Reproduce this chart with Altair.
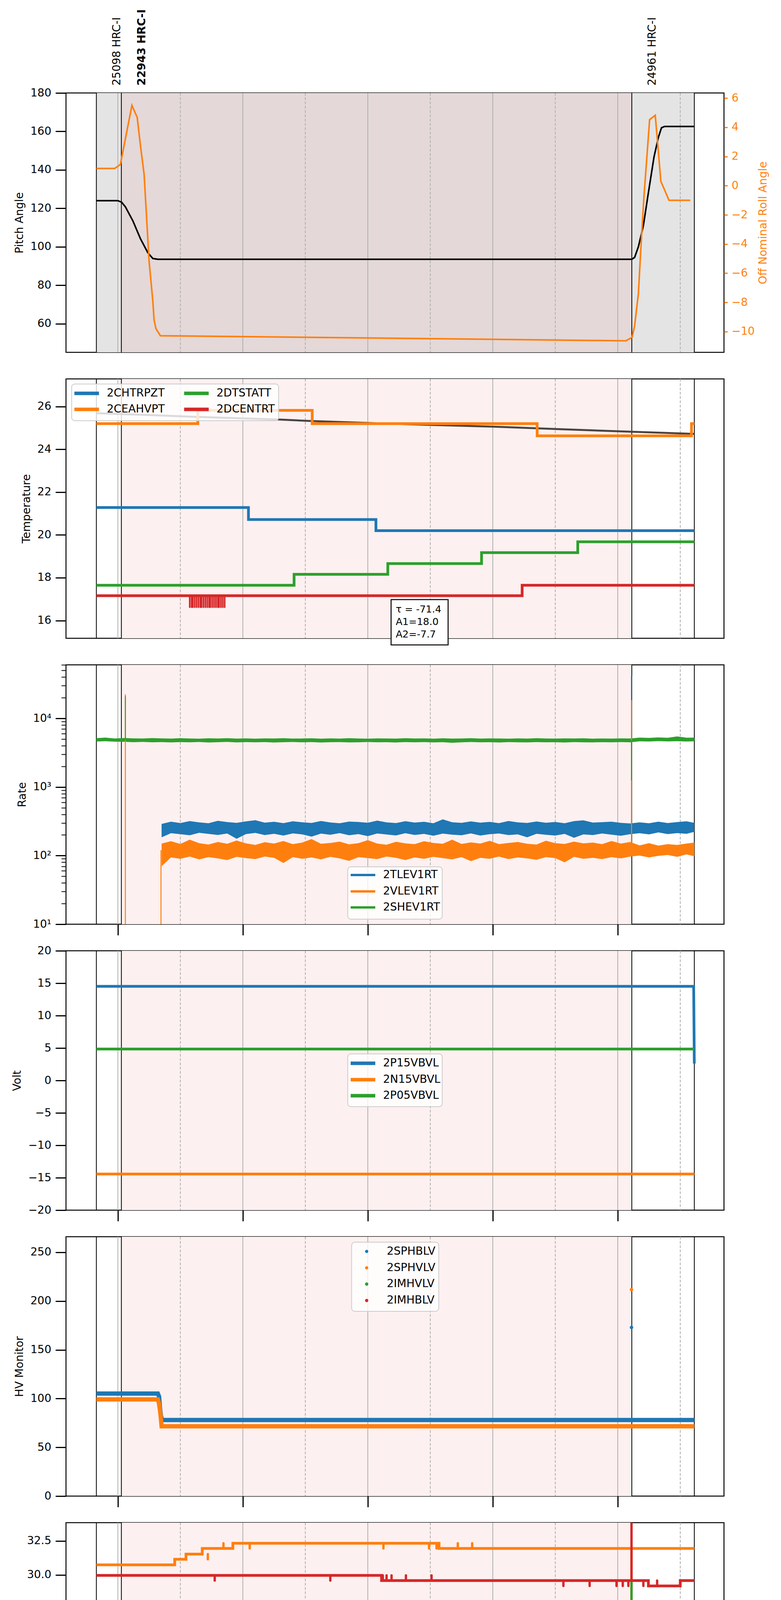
import altair as alt
import pandas as pd

BLUE, ORANGE, GREEN, RED = "#1f77b4", "#ff7f0e", "#2ca02c", "#d62728"
GRID = "#b0b0b0"
FONT = "DejaVu Sans"

W, H = 1685, 664
XSCALE = alt.Scale(domain=[11.17, 21.70], nice=False, zero=False)

# times are decimal hours of 2021-08-01
MAJOR_HOURS = [12, 14, 16, 18, 20]
MINOR_HOURS = [13, 15, 17, 19, 21]
ALL_HOURS = [12, 13, 14, 15, 16, 17, 18, 19, 20, 21]
OBS_LINES = [11.656, 12.056, 20.225, 21.225]
OBS_START = [11.656, 12.056, 20.225]
OBS_IDS = ["25098 HRC-I", "22943 HRC-I", "24961 HRC-I"]
OBS_BOLD = [False, True, False]
SPAN_START = [11.656, 12.056, 20.225]
SPAN_END = [12.056, 20.225, 21.225]
SPAN_FILL_TOP = ["#e4e4e4", "#e4d8d8", "#e4e4e4"]
PINK = "#fdf0f0"

# panel 1: pitch / roll
PITCH_T = [11.656, 12.0, 12.06, 12.12, 12.24, 12.36, 12.48, 12.56, 12.64,
           20.225, 20.27, 20.33, 20.41, 20.48, 20.58, 20.65, 20.70, 20.75, 21.225]
PITCH_V = [124.0, 124.0, 123.2, 120.8, 113.5, 104.3, 96.9, 93.9, 93.5,
           93.5, 94.5, 100.0, 111.0, 126.0, 146.7, 156.9, 161.9, 162.6, 162.6]
ROLL_T = [11.656, 11.95, 12.04, 12.225, 12.31, 12.36, 12.42, 12.5, 12.56, 12.58, 12.61, 12.68,
          20.13, 20.23, 20.27, 20.33, 20.38, 20.42, 20.51, 20.60, 20.69, 20.74, 20.78, 20.82, 21.16]
ROLL_V = [1.18, 1.18, 1.45, 5.50, 4.67, 2.8, 0.78, -5.18, -7.93, -9.22, -9.8, -10.28,
          -10.63, -10.39, -9.6, -7.4, -3.5, -0.7, 4.52, 4.82, 0.29, -0.2, -0.6, -1.0, -1.0]

# panel 2: temperature
P2_NAMES = ["2CHTRPZT", "2CEAHVPT", "2DTSTATT", "2DCENTRT"]
P2_BLUE_T = [11.656, 14.09, 16.13, 21.225]
P2_BLUE_V = [21.28, 20.72, 20.2, 20.2]
P2_ORANGE_T = [11.656, 13.28, 15.11, 18.71, 21.18, 21.225]
P2_ORANGE_V = [25.2, 25.82, 25.2, 24.63, 25.2, 25.2]
P2_GREEN_T = [11.656, 14.82, 16.32, 17.82, 19.36, 21.225]
P2_GREEN_V = [17.65, 18.16, 18.66, 19.17, 19.68, 19.68]
P2_RED_T = [11.656, 18.47, 21.225]
P2_RED_V = [17.16, 17.65, 17.65]
P2_RED_DIP_T = [13.15, 13.18, 13.20, 13.23, 13.26, 13.29, 13.32, 13.34, 13.37, 13.40, 13.43,
                13.46, 13.48, 13.51, 13.54, 13.57, 13.60, 13.62, 13.65, 13.68, 13.71]
P2_RED_DIP_LO, P2_RED_DIP_HI = 16.62, 17.16
P2_FIT_T = [11.656, 12.5, 13.5, 14.58, 15.05, 16.0, 17.0, 18.1, 19.0, 20.22, 21.225]
P2_FIT_V = [25.69, 25.60, 25.49, 25.39, 25.33, 25.23, 25.14, 25.05, 24.95, 24.82, 24.72]
P2_FIT_TEXT = ["τ = -71.4", "A1=18.0", "A2=-7.7"]

# panel 3: rates (band envelopes)
P3_NAMES = ["2TLEV1RT", "2VLEV1RT", "2SHEV1RT"]
RATE_T = [11.656, 11.80, 11.95, 12.10, 12.25, 12.40, 12.55, 12.70, 12.85, 13.00,
          13.15, 13.30, 13.45, 13.60, 13.75, 13.90, 14.05, 14.20, 14.35, 14.50,
          14.65, 14.80, 14.95, 15.10, 15.25, 15.40, 15.55, 15.70, 15.85, 16.00,
          16.15, 16.30, 16.45, 16.60, 16.75, 16.90, 17.05, 17.20, 17.35, 17.50,
          17.65, 17.80, 17.95, 18.10, 18.25, 18.40, 18.55, 18.70, 18.85, 19.00,
          19.15, 19.30, 19.45, 19.60, 19.75, 19.90, 20.05, 20.20, 20.35, 20.50,
          20.65, 20.80, 20.95, 21.10, 21.225]
BLUE_HI = [None, None, None, None, None, None, None, 290, 312, 298,
           318, 305, 296, 322, 308, 300, 315, 328, 302, 311,
           297, 316, 306, 299, 319, 304, 296, 313, 309, 301,
           324, 305, 298, 317, 303, 311, 296, 338, 306, 300,
           315, 302, 310, 297, 320, 305, 299, 314, 301, 309,
           296, 318, 327, 303, 307, 312, 300, 294, 305, 296,
           312, 298, 308, 316, 300]
BLUE_LO = [None, None, None, None, None, None, None, 185, 212, 205,
           198, 215, 207, 200, 210, 176, 206, 214, 199, 208,
           196, 211, 204, 189, 209, 201, 213, 198, 206, 192,
           210, 203, 197, 212, 200, 207, 195, 209, 202, 198,
           211, 196, 205, 210, 199, 204, 185, 208, 201, 196,
           207, 182, 204, 199, 210, 202, 195, 205, 212, 204,
           218, 206, 213, 208, 222]
ORANGE_HI = [None, None, None, None, None, None, None, 150, 162, 148,
             171, 152, 145, 158, 149, 166, 151, 143, 157, 150,
             163, 147, 155, 174, 149, 153, 160, 146, 152, 168,
             150, 144, 159, 151, 147, 162, 153, 149, 171, 148,
             156, 150, 164, 147, 153, 158, 149, 145, 165, 152,
             148, 160, 151, 155, 147, 163, 150, 158, 141, 152,
             140, 147, 143, 150, 155]
ORANGE_LO = [None, None, None, None, None, None, None, 70, 94, 90,
             97, 88, 95, 91, 86, 96, 92, 89, 97, 93,
             78, 95, 90, 94, 88, 96, 91, 84, 95, 92,
             89, 97, 93, 86, 94, 90, 96, 92, 88, 95,
             83, 93, 90, 97, 89, 94, 91, 87, 95, 92,
             80, 96, 90, 93, 89, 95, 91, 97, 100, 94,
             99, 102, 96, 104, 98]
GREEN_HI = [5150, 5250, 5100, 5180, 5120, 5090, 5160, 5110, 5070, 5140,
            5100, 5060, 5130, 5090, 5150, 5080, 5110, 5060, 5120, 5090,
            5140, 5070, 5100, 5130, 5060, 5110, 5080, 5150, 5090, 5060,
            5120, 5100, 5070, 5140, 5090, 5110, 5060, 5130, 5080, 5100,
            5150, 5070, 5110, 5090, 5060, 5120, 5080, 5140, 5100, 5070,
            5110, 5090, 5130, 5060, 5100, 5080, 5120, 5090, 5250, 5200,
            5280, 5220, 5450, 5230, 5250]
GREEN_LO = [4600, 4650, 4580, 4560, 4500, 4540, 4490, 4520, 4470, 4510,
            4480, 4530, 4460, 4500, 4540, 4470, 4510, 4480, 4520, 4450,
            4500, 4530, 4480, 4510, 4460, 4500, 4520, 4470, 4490, 4530,
            4480, 4500, 4460, 4510, 4480, 4520, 4470, 4500, 4410, 4490,
            4530, 4480, 4500, 4460, 4510, 4490, 4470, 4520, 4480, 4500,
            4460, 4510, 4490, 4470, 4500, 4480, 4520, 4490, 4640, 4600,
            4660, 4620, 4650, 4610, 4640]
RATE_SPIKE_T = [20.22, 12.69, 12.12, 20.22, 12.12, 20.22]
RATE_SPIKE_LO = [250, 10, 10, 120, 4800, 1245]
RATE_SPIKE_HI = [41900, 120, 22400, 18400, 21000, 4800]
RATE_SPIKE_C = [BLUE, ORANGE, ORANGE, ORANGE, GREEN, GREEN]
RATE_DECADES = [10, 100, 1000, 10000]
RATE_MINOR = [20, 30, 40, 50, 60, 70, 80, 90, 200, 300, 400, 500, 600, 700, 800, 900,
              2000, 3000, 4000, 5000, 6000, 7000, 8000, 9000, 20000, 30000, 40000, 50000, 60000]

# panel 4: volts
P4_NAMES = ["2P15VBVL", "2N15VBVL", "2P05VBVL"]
P4_BLUE_T = [11.656, 21.215, 21.225]
P4_BLUE_V = [14.52, 14.52, 2.6]
P4_ORANGE_T = [11.656, 21.225]
P4_ORANGE_V = [-14.43, -14.43]
P4_GREEN_T = [11.656, 21.225]
P4_GREEN_V = [4.85, 4.85]

# panel 5: HV monitor
P5_NAMES = ["2SPHBLV", "2SPHVLV", "2IMHVLV", "2IMHBLV"]
P5_BLUE_T = [11.656, 12.64, 12.66, 12.675, 12.69, 12.71, 21.225]
P5_BLUE_V = [105.2, 105.2, 102.0, 90.0, 82.0, 78.0, 78.0]
P5_ORANGE_T = [11.656, 12.64, 12.655, 12.67, 12.685, 12.70, 21.225]
P5_ORANGE_V = [99.1, 99.1, 96.0, 90.0, 82.0, 71.6, 71.6]
P5_SPIKE_T = [20.22, 20.22]
P5_SPIKE_V = [173.0, 211.8]
P5_SPIKE_C = [BLUE, ORANGE]

# panel 6: detector temperature
P6_NAMES = ["2SPINATM", "2SPHVATM", "2IMINATM", "2IMHVATM"]
P6_BLUE_T = [11.656, 15.92, 19.55, 21.225]
P6_BLUE_V = [16.35, 16.98, 17.62, 17.62]
P6_BLUE_SPK_T = [15.86, 15.89, 19.50, 19.53]
P6_BLUE_SPK_LO = [16.35, 16.35, 16.98, 16.98]
P6_BLUE_SPK_HI = [16.98, 16.98, 17.62, 17.62]
P6_ORANGE_T = [11.656, 12.91, 13.09, 13.35, 13.84, 17.14, 21.225]
P6_ORANGE_V = [30.74, 31.15, 31.53, 31.94, 32.32, 31.94, 31.94]
P6_ORANGE_SPK_T = [13.44, 13.69, 14.11, 16.25, 16.98, 17.10, 17.44, 17.67, 20.22]
P6_ORANGE_SPK_LO = [31.15, 31.94, 31.94, 31.94, 31.94, 31.94, 31.94, 31.94, 10.0]
P6_ORANGE_SPK_HI = [31.53, 32.32, 32.32, 32.32, 32.32, 32.32, 32.32, 32.32, 31.94]
P6_GREEN_T = [11.656, 15.75, 18.33, 21.16, 21.225]
P6_GREEN_V = [17.62, 18.28, 18.95, 19.61, 19.61]
P6_GREEN_SPK_T = [20.22]
P6_GREEN_SPK_LO = [18.95]
P6_GREEN_SPK_HI = [29.45]
P6_RED_T = [11.656, 16.22, 20.49, 21.0, 21.225]
P6_RED_V = [29.97, 29.59, 29.2, 29.59, 29.59]
P6_RED_SPK_T = [13.55, 15.40, 16.24, 16.30, 16.38, 16.61, 17.02, 19.13, 19.55, 19.98, 20.08,
                20.17, 20.41, 20.63, 20.22]
P6_RED_SPK_LO = [29.59, 29.59, 29.59, 29.59, 29.59, 29.59, 29.59, 29.2, 29.2, 29.2, 29.2,
                 29.2, 29.2, 29.2, 29.59]
P6_RED_SPK_HI = [29.97, 29.97, 29.97, 29.97, 29.97, 29.97, 29.97, 29.59, 29.59, 29.59, 29.59,
                 29.59, 29.59, 29.59, 40.0]

# panel 7: FEA temperature
P7_NAMES = ["2FHTRMZT", "2FRADPYT", "2FEPRATM", "2FE00ATM"]
P7_BLUE_T = [11.656, 11.69, 12.72, 13.6, 14.52, 15.49, 16.55, 17.71, 18.98, 20.35, 20.45, 21.225]
P7_BLUE_V = [20.23, 19.68, 20.21, 20.73, 21.28, 21.81, 22.37, 22.91, 23.46, 24.05, 23.46, 23.46]
P7_ORANGE_T = [11.656, 12.58, 12.70, 12.91, 13.39, 14.20, 15.12, 16.15, 17.25, 18.47, 19.80,
               20.38, 20.49, 21.225]
P7_ORANGE_V = [15.2, 15.72, 16.2, 16.67, 17.16, 17.65, 18.15, 18.66, 19.17, 19.68, 20.21,
               19.68, 19.17, 19.17]
P7_GREEN_T = [11.656, 13.06, 14.23, 15.66, 17.35, 19.27, 21.225]
P7_GREEN_V = [21.69, 22.41, 23.13, 23.88, 24.63, 25.39, 25.39]
P7_RED_T = [11.656, 12.36, 12.61, 13.09, 13.71, 14.43, 15.08, 15.80, 16.58, 17.40, 18.33,
            19.27, 20.29, 20.41, 21.225]
P7_RED_V = [20.48, 20.18, 20.48, 20.8, 21.11, 21.41, 21.72, 22.01, 22.35, 22.65, 23.0,
            23.29, 23.63, 23.29, 23.29]
P7_RED_SPK_T = [12.75, 13.02, 13.35, 13.57, 13.82, 13.89, 14.10, 14.14, 14.26, 14.27, 14.38,
                14.61, 14.73, 15.20, 15.30, 15.54, 15.89, 16.06, 16.34, 16.54, 16.72, 17.37,
                17.57, 17.66, 17.77, 17.80, 17.92, 18.14, 18.23, 18.47, 18.56, 19.0, 19.08,
                19.16, 19.33, 19.60, 20.17, 20.22]
P7_RED_SPK_LO = [20.48, 20.48, 20.13, 20.42, 21.11, 20.73, 20.13, 21.11, 19.82, 21.11, 20.44,
                 20.73, 21.41, 21.05, 21.34, 21.05, 21.35, 21.66, 22.01, 21.35, 21.35, 22.35,
                 21.97, 21.35, 22.65, 22.29, 22.65, 22.65, 22.65, 23.0, 22.6, 22.6, 21.97,
                 23.0, 22.6, 22.29, 22.93, 23.29]
P7_RED_SPK_HI = [21.45, 21.45, 20.8, 20.8, 22.09, 21.11, 21.11, 21.45, 21.11, 21.45, 21.76,
                 21.41, 22.39, 21.72, 21.72, 22.39, 22.01, 22.39, 22.72, 22.01, 23.67, 22.72,
                 22.65, 22.65, 24.0, 22.65, 23.34, 23.02, 23.02, 23.34, 23.0, 23.34, 23.0,
                 23.34, 23.29, 24.0, 23.29, 30.0]

ONE = pd.DataFrame({"k": [0]})
COLORS4 = [BLUE, ORANGE, GREEN, RED]


def cond(test, a, b):
    return {"condition": {"test": test, "value": a}, "value": b}


def yaxis(values, **kw):
    return alt.Axis(values=values, tickSize=27, tickWidth=3, labelPadding=11, titlePadding=13, **kw)


class Panel:
    """Keeps the scale / axis / title of one panel so every layer encodes them identically."""

    def __init__(self, ysc, yax=None, ytitle=None, xax=None, xtitle=None):
        self.ysc, self.yax, self.ytitle = ysc, yax, ytitle
        self.xax, self.xtitle = xax, xtitle

    def x(self, field="t:Q"):
        return alt.X(field, scale=XSCALE, axis=self.xax, title=self.xtitle)

    def y(self, field="v:Q"):
        return alt.Y(field, scale=self.ysc, axis=self.yax, title=self.ytitle)

    def background(self, top=False):
        if top:
            spans = pd.DataFrame({"t": SPAN_START, "t2": SPAN_END, "fill": SPAN_FILL_TOP})
        else:
            spans = pd.DataFrame({"t": [SPAN_START[1]], "t2": [SPAN_END[1]], "fill": [PINK]})
        return [
            alt.Chart(spans).mark_rect().encode(
                x=self.x(), x2="t2:Q", y=alt.value(0), y2=alt.value(H),
                color=alt.Color("fill:N", scale=None)),
            alt.Chart(pd.DataFrame({"t": MAJOR_HOURS})).mark_rule(color=GRID, strokeWidth=2).encode(
                x=self.x(), y=alt.value(0), y2=alt.value(H)),
            alt.Chart(pd.DataFrame({"t": MINOR_HOURS})).mark_rule(
                color=GRID, strokeWidth=2, strokeDash=[7, 4]).encode(
                x=self.x(), y=alt.value(0), y2=alt.value(H)),
            alt.Chart(pd.DataFrame({"t": OBS_LINES})).mark_rule(color="black", strokeWidth=2).encode(
                x=self.x(), y=alt.value(0), y2=alt.value(H)),
        ]

    def line(self, t, v, color, width=7, step=True):
        df = pd.DataFrame({"t": t, "v": v})
        return alt.Chart(df).mark_line(
            color=color, strokeWidth=width, clip=True,
            interpolate="step-after" if step else "linear").encode(x=self.x(), y=self.y())

    def spikes(self, t, lo, hi, color, width=6):
        df = pd.DataFrame({"t": t, "lo": lo, "hi": hi})
        return alt.Chart(df).mark_rule(color=color, strokeWidth=width, clip=True, strokeCap="round").encode(
            x=self.x(), y=self.y("lo:Q"), y2="hi:Q")


def box(x0, x1, y0, y1, **kw):
    return alt.Chart(ONE).mark_rect(**kw).encode(
        x=alt.value(x0), x2=alt.value(x1), y=alt.value(y0), y2=alt.value(y1))


def legend(names, colors, frame, entries, kind="line", hw=9):
    layers = [box(*frame, fill="white", fillOpacity=0.8, stroke="#cccccc", strokeWidth=2, cornerRadius=8)]
    for name, color, (hx, hy) in zip(names, colors, entries):
        if kind == "line":
            layers.append(alt.Chart(ONE).mark_rule(color=color, strokeWidth=hw).encode(
                x=alt.value(hx), x2=alt.value(hx + 63), y=alt.value(hy)))
        else:
            layers.append(alt.Chart(ONE).mark_circle(color=color, size=70, opacity=1).encode(
                x=alt.value(hx + 31.5), y=alt.value(hy)))
        layers.append(alt.Chart(ONE).mark_text(align="left", baseline="middle", fontSize=28).encode(
            x=alt.value(hx + 83), y=alt.value(hy), text=alt.value(name)))
    return layers


XAX = alt.Axis(values=MAJOR_HOURS, tickSize=28, tickWidth=3, labels=False)

# ---------- panel 1 ----------
P1 = Panel(alt.Scale(domain=[45.1, 180], nice=False, zero=False),
           yaxis([60, 80, 100, 120, 140, 160, 180]), "Pitch Angle")
R1 = Panel(alt.Scale(domain=[-11.42, 6.35], nice=False, zero=False),
           alt.Axis(orient="right", values=[-10, -8, -6, -4, -2, 0, 2, 4, 6],
                    tickSize=9, tickWidth=3, tickColor=ORANGE, labelColor=ORANGE,
                    titleColor=ORANGE, labelPadding=10, titlePadding=8,
                    titleAngle=270, titleBaseline="top"),
           "Off Nominal Roll Angle")
obs = pd.DataFrame({"t": OBS_START, "label": OBS_IDS, "bold": OBS_BOLD})
obs_text = [
    alt.Chart(obs).transform_filter(f).mark_text(
        angle=270, align="left", baseline="alphabetic", dy=61, fontSize=28, fontWeight=w).encode(
        x=P1.x(), y=alt.value(-19), text="label:N")
    for f, w in [("!datum.bold", "normal"), ("datum.bold", "bold")]
]
p1 = alt.layer(
    *P1.background(top=True),
    P1.line(PITCH_T, PITCH_V, "black", width=4, step=False),
    R1.line(ROLL_T, ROLL_V, ORANGE, width=4, step=False),
    *obs_text,
).resolve_scale(y="independent").properties(width=W, height=H)

# ---------- panel 2 ----------
P2 = Panel(alt.Scale(domain=[15.17, 27.29], nice=False, zero=False),
           yaxis([16, 18, 20, 22, 24, 26]), "Temperature")
p2 = alt.layer(
    *P2.background(),
    P2.line(P2_FIT_T, P2_FIT_V, "#4a4444", width=5, step=False),
    P2.line(P2_BLUE_T, P2_BLUE_V, BLUE),
    P2.line(P2_ORANGE_T, P2_ORANGE_V, ORANGE),
    P2.line(P2_GREEN_T, P2_GREEN_V, GREEN),
    P2.line(P2_RED_T, P2_RED_V, RED),
    P2.spikes(P2_RED_DIP_T, P2_RED_DIP_LO, P2_RED_DIP_HI, RED, width=4),
    *legend(P2_NAMES, COLORS4, (14.5, 544.5, 13, 107),
            [(21.5, 37), (21.5, 78), (302.5, 37), (302.5, 78)]),
    box(832.5, 978.5, 565, 681, fill="white", stroke="black", strokeWidth=2.5),
    *[alt.Chart(ONE).mark_text(align="left", baseline="alphabetic", fontSize=25).encode(
        x=alt.value(844.5), y=alt.value(598 + 32 * i), text=alt.value(s))
      for i, s in enumerate(P2_FIT_TEXT)],
).properties(width=W, height=H)

# ---------- panel 3 ----------
is_decade = "indexof([10, 100, 1000, 10000], datum.value) >= 0"
P3 = Panel(alt.Scale(type="log", domain=[10, 60300], nice=False),
           alt.Axis(values=RATE_DECADES + RATE_MINOR, labelPadding=11, titlePadding=13,
                    tickSize=cond(is_decade, 27, 12), tickWidth=cond(is_decade, 3, 2),
                    labelExpr="datum.value == 10 ? '10¹' : datum.value == 100 ? '10²' : "
                              "datum.value == 1000 ? '10³' : datum.value == 10000 ? '10⁴' : ''"),
           "Rate", XAX)
rates = pd.DataFrame({"t": RATE_T, "blo": BLUE_LO, "bhi": BLUE_HI, "olo": ORANGE_LO,
                      "ohi": ORANGE_HI, "glo": GREEN_LO, "ghi": GREEN_HI})


def band(lo, hi, color):
    return alt.Chart(rates).transform_filter(f"isValid(datum.{lo})").mark_area(
        color=color, clip=True, opacity=1).encode(x=P3.x(), y=P3.y(f"{lo}:Q"), y2=f"{hi}:Q")


rate_spk = pd.DataFrame({"t": RATE_SPIKE_T, "lo": RATE_SPIKE_LO, "hi": RATE_SPIKE_HI, "c": RATE_SPIKE_C})
p3 = alt.layer(
    *P3.background(),
    band("blo", "bhi", BLUE),
    band("olo", "ohi", ORANGE),
    band("glo", "ghi", GREEN),
    alt.Chart(rate_spk).mark_rule(strokeWidth=2.5, clip=True).encode(
        x=P3.x(), y=P3.y("lo:Q"), y2="hi:Q", color=alt.Color("c:N", scale=None)),
    *legend(P3_NAMES, [BLUE, ORANGE, GREEN], (721.5, 963.5, 517, 651),
            [(729, 538), (729, 580), (729, 621)], hw=6),
).properties(width=W, height=H)

# ---------- panel 4 ----------
P4 = Panel(alt.Scale(domain=[-20, 20], nice=False, zero=False),
           yaxis([-20, -15, -10, -5, 0, 5, 10, 15, 20]), "Volt", XAX)
p4 = alt.layer(
    *P4.background(),
    P4.line(P4_BLUE_T, P4_BLUE_V, BLUE, step=False),
    P4.line(P4_ORANGE_T, P4_ORANGE_V, ORANGE),
    P4.line(P4_GREEN_T, P4_GREEN_V, GREEN),
    *legend(P4_NAMES, [BLUE, ORANGE, GREEN], (721.5, 963.5, 264, 399),
            [(729, 288), (729, 330), (729, 371)]),
).properties(width=W, height=H)

# ---------- panel 5 ----------
P5 = Panel(alt.Scale(domain=[0, 266], nice=False, zero=False),
           yaxis([0, 50, 100, 150, 200, 250]), "HV Monitor", XAX)
p5 = alt.layer(
    *P5.background(),
    P5.line(P5_BLUE_T, P5_BLUE_V, BLUE, width=11, step=False),
    P5.line(P5_ORANGE_T, P5_ORANGE_V, ORANGE, width=11, step=False),
    alt.Chart(pd.DataFrame({"t": P5_SPIKE_T, "v": P5_SPIKE_V, "c": P5_SPIKE_C})).mark_circle(
        size=80, opacity=1).encode(x=P5.x(), y=P5.y(), color=alt.Color("c:N", scale=None)),
    *legend(P5_NAMES, COLORS4, (731.5, 954.5, 14, 191),
            [(738.5, 37.6), (738.5, 79.6), (738.5, 121.2), (738.5, 163.3)], kind="dot"),
).properties(width=W, height=H)

# ---------- panel 6 ----------
P6 = Panel(alt.Scale(domain=[14.85, 33.83], nice=False, zero=False),
           yaxis([15, 17.5, 20, 22.5, 25, 27.5, 30, 32.5], format=".1f"), "Detector Temp", XAX)
p6 = alt.layer(
    *P6.background(),
    P6.line(P6_BLUE_T, P6_BLUE_V, BLUE),
    P6.spikes(P6_BLUE_SPK_T, P6_BLUE_SPK_LO, P6_BLUE_SPK_HI, BLUE),
    P6.line(P6_ORANGE_T, P6_ORANGE_V, ORANGE),
    P6.spikes(P6_ORANGE_SPK_T, P6_ORANGE_SPK_LO, P6_ORANGE_SPK_HI, ORANGE),
    P6.line(P6_GREEN_T, P6_GREEN_V, GREEN),
    P6.spikes(P6_GREEN_SPK_T, P6_GREEN_SPK_LO, P6_GREEN_SPK_HI, GREEN),
    P6.line(P6_RED_T, P6_RED_V, RED),
    P6.spikes(P6_RED_SPK_T, P6_RED_SPK_LO, P6_RED_SPK_HI, RED),
    *legend(P6_NAMES, COLORS4, (718.5, 967.5, 245, 421),
            [(725.5, 267), (725.5, 309.5), (725.5, 351), (725.5, 393)]),
).properties(width=W, height=H)

# ---------- panel 7 ----------
is_even = "datum.value % 2 == 0"
XBOTTOM = alt.Axis(values=ALL_HOURS, labelExpr="datum.value + 'h'",
                   tickSize=cond(is_even, 28, 6), tickWidth=cond(is_even, 3, 2),
                   labelFontSize=cond(is_even, 28, 19), labelPadding=cond(is_even, 10, 2),
                   titlePadding=11)
P7 = Panel(alt.Scale(domain=[15.67, 26.13], nice=False, zero=False),
           yaxis([16, 18, 20, 22, 24, 26]), "FEA Temp", XBOTTOM, "2021-08-01 (213)")
p7 = alt.layer(
    *P7.background(),
    P7.line(P7_BLUE_T, P7_BLUE_V, BLUE),
    P7.line(P7_ORANGE_T, P7_ORANGE_V, ORANGE),
    P7.line(P7_GREEN_T, P7_GREEN_V, GREEN),
    P7.line(P7_RED_T, P7_RED_V, RED),
    P7.spikes(P7_RED_SPK_T, P7_RED_SPK_LO, P7_RED_SPK_HI, RED),
    *legend(P7_NAMES, COLORS4, (14.5, 266.5, 15, 191),
            [(21.5, 37), (21.5, 79), (21.5, 121), (21.5, 163)]),
).properties(width=W, height=H)

chart = alt.vconcat(p1, p2, p3, p4, p5, p6, p7, spacing=68, bounds="flush").properties(
    padding={"left": 18, "top": 14, "right": 5, "bottom": 0}
).configure(font=FONT).configure_axis(
    labelFont=FONT, titleFont=FONT, labelFontSize=28, titleFontSize=28, titleFontWeight="normal",
    labelColor="black", titleColor="black", tickColor="black", domain=False, grid=False,
).configure_view(stroke="black", strokeWidth=2.5)

chart.save("out.html", embed_options={"renderer": "svg", "actions": False})
